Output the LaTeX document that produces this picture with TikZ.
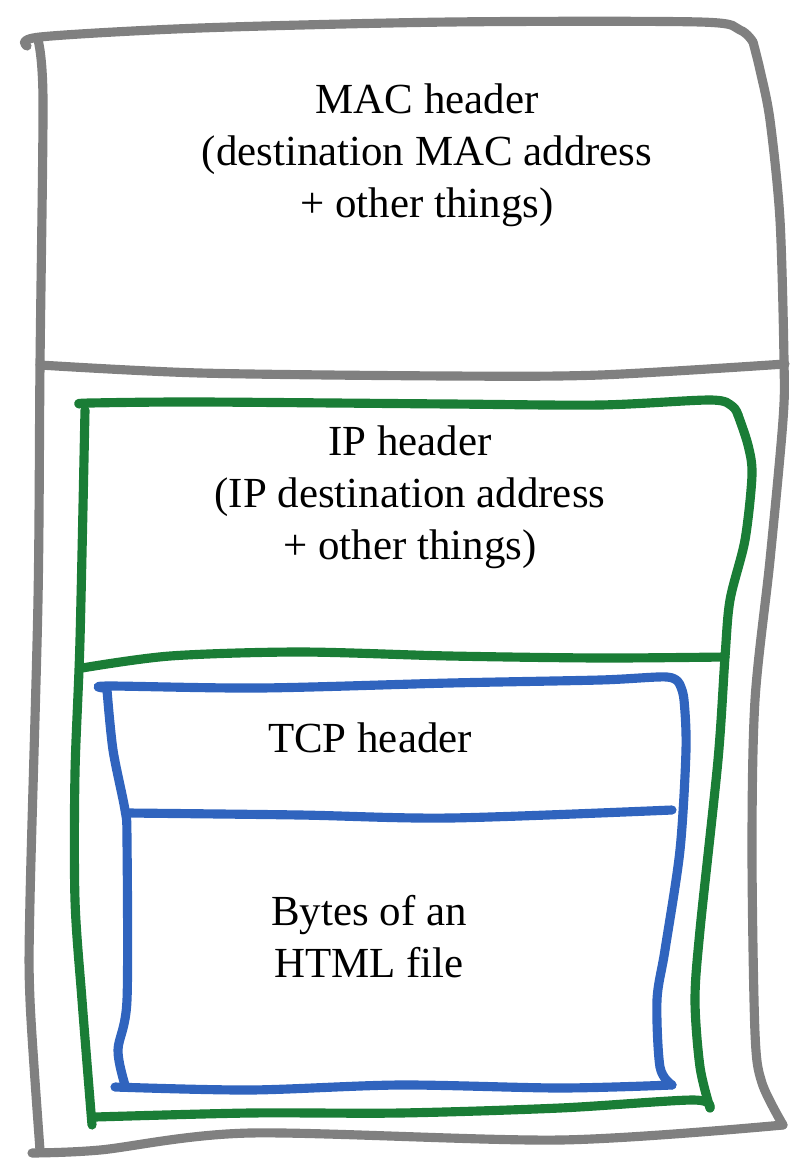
\documentclass[tikz,border=0pt]{standalone}
\usepackage{fontspec}
\setmainfont{Liberation Serif}
\usepackage{tikz}
\definecolor{framegray}{RGB}{128,128,128}
\definecolor{ipgreen}{RGB}{26,125,54}
\definecolor{tcpblue}{RGB}{48,100,190}

\begin{document}
\begin{tikzpicture}[x=0.025cm,y=-0.025cm,line cap=round,line join=round]
  \tikzstyle{outer_frame}=[draw=framegray,line width=6.5pt]
  \tikzstyle{ip_frame}=[draw=ipgreen,line width=6.5pt]
  \tikzstyle{tcp_frame}=[draw=tcpblue,line width=6.5pt]
  \tikzstyle{texto}=[align=center,font=\fontsize{30.5}{37}\selectfont]
  \useasboundingbox (0,0) rectangle (799,1159);
  %Marco MAC
  \draw[outer_frame] plot[smooth] coordinates {(27,46) (40,37) (200,28) (450,22) (700,22) (740,30) (753,42)};
  \draw[outer_frame] plot[smooth] coordinates {(753,42) (760,70) (770,120) (780,220) (784,360) (783,420) (770,560) (755,700) (752,850) (755,1033) (762,1083) (783,1125)};
  \draw[outer_frame] plot[smooth] coordinates {(783,1125) (560,1140) (250,1133) (100,1150) (32,1153)};
  \draw[outer_frame] plot[smooth] coordinates {(40,1150) (30,1000) (30,900) (38,600) (40,365) (43,100) (38,40)};
  \draw[outer_frame] plot[smooth] coordinates {(40,365) (200,373) (450,376) (600,375) (785,364)};
  %Marco IP
  \draw[ip_frame] plot[smooth] coordinates {(80,404) (90,403) (200,402) (450,404) (600,405) (710,400) (732,406) (738,415)};
  \draw[ip_frame] plot[smooth] coordinates {(738,415) (748,445) (752,475) (745,540) (730,600) (725,657) (718,760) (700,930) (695,1000) (700,1067) (710,1108)};
  \draw[ip_frame] plot[smooth] coordinates {(710,1108) (693,1100) (560,1108) (400,1113) (250,1113) (95,1117)};
  \draw[ip_frame] plot[smooth] coordinates {(92,1125) (82,1000) (75,900) (75,773) (80,640) (85,410)};
  \draw[ip_frame] plot[smooth] coordinates {(82,668) (170,656) (300,652) (450,656) (600,658) (725,657)};
  %Marco TCP
  \draw[tcp_frame] plot[smooth] coordinates {(103,688) (110,686) (260,688) (450,683) (600,680) (667,677) (680,685)};
  \draw[tcp_frame] plot[smooth] coordinates {(680,685) (684,700) (686,750) (680,850) (665,950) (657,1000) (660,1067) (672,1085)};
  \draw[tcp_frame] plot[smooth] coordinates {(672,1085) (560,1088) (400,1085) (250,1090) (115,1087)};
  \draw[tcp_frame] plot[smooth] coordinates {(125,1085) (118,1050) (127,1000) (127,840) (125,810) (113,750) (107,690)};
  \draw[tcp_frame] plot[smooth] coordinates {(128,813) (300,815) (450,818) (672,810)};
  %Textos
  \node[texto] (mac) at (427,155) {MAC header\\(destination MAC address\\+ other things)};
  \node[texto] (ip) at (410,497) {IP header\\(IP destination address\\+ other things)};
  \node[texto] (tcp) at (370,738) {TCP header};
  \node[texto] (bytes) at (369,937) {Bytes of an\\HTML file};
\end{tikzpicture}
\end{document}
